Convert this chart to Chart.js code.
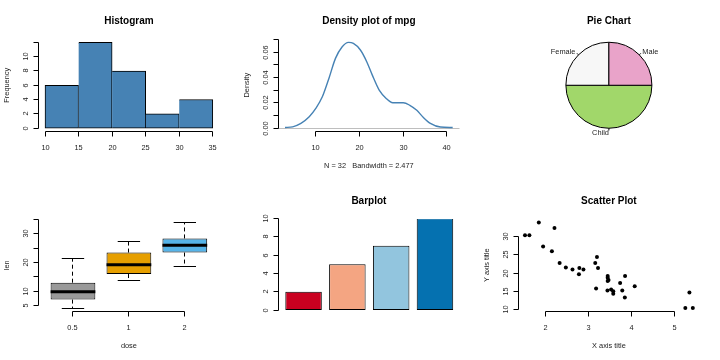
<!DOCTYPE html>
<html>
<head>
<meta charset="utf-8">
<script src="https://cdn.jsdelivr.net/npm/chart.js@4/dist/chart.umd.min.js"></script>
<style>
  body { margin: 0; background: #fff; }
  #wrap { position: relative; width: 720px; height: 360px; }
  .panel { position: absolute; width: 240px; height: 180px; }
  .panel canvas { display: block; }
</style>
</head>
<body>
<div id="wrap">
  <div class="panel" style="left:0;top:0"><canvas id="histChart" width="240" height="180"></canvas></div>
  <div class="panel" style="left:240px;top:0"><canvas id="densChart" width="240" height="180"></canvas></div>
  <div class="panel" style="left:480px;top:0"><canvas id="pieChart" width="240" height="180"></canvas></div>
  <div class="panel" style="left:0;top:180px"><canvas id="boxChart" width="240" height="180"></canvas></div>
  <div class="panel" style="left:240px;top:180px"><canvas id="barChart" width="240" height="180"></canvas></div>
  <div class="panel" style="left:480px;top:180px"><canvas id="scatChart" width="240" height="180"></canvas></div>
</div>
<script>
// ---- data ----
const histBreaks = [10, 15, 20, 25, 30, 35];
const histCounts = [6, 12, 8, 2, 4];
const histXTicks = [10, 15, 20, 25, 30, 35];
const histYTicks = [0, 2, 4, 6, 8, 10, 12];
const histYLabels = ['0', '2', '4', '6', '8', '10', ''];

const densX = [2.96, 4.7, 6.6, 8.5, 10, 11.5, 13, 14.5, 16, 17.5, 18.6, 20.2, 21.7, 22.9, 24.5, 26.1, 27.6, 30, 31.5, 33.1, 34.6, 36.2, 38.5, 41.3];
const densY = [0.0005, 0.001, 0.0037, 0.0089, 0.0155, 0.0247, 0.0392, 0.055, 0.064, 0.0676, 0.0668, 0.0616, 0.052, 0.042, 0.030, 0.0234, 0.020, 0.020, 0.018, 0.014, 0.0084, 0.0037, 0.0008, 0.0004];
const densXTicks = [10, 20, 30, 40];
const densYTicks = [0, 0.01, 0.02, 0.03, 0.04, 0.05, 0.06, 0.07];
const densYLabels = ['0.00', '', '0.02', '', '0.04', '', '0.06', ''];

const pieLabels = ['Male', 'Female', 'Child'];
const pieValues = [25, 25, 50];
const pieColors = ['#E9A3C9', '#F7F7F7', '#A1D76A'];

const doseLabels = ['0.5', '1', '2'];
const lenMin = [4.2, 13.6, 18.5];
const lenQ1 = [7.15, 16.0, 23.45];
const lenMed = [9.85, 19.25, 25.95];
const lenQ3 = [13.0, 23.45, 28.35];
const lenMax = [21.5, 27.3, 33.9];
const boxColors = ['#999999', '#E69F00', '#56B4E9'];
const boxYTicks = [5, 10, 15, 20, 25, 30, 35];
const boxYLabels = ['5', '10', '', '20', '', '30', ''];

const barValues = [2, 5, 7, 10];
const barColors = ['#CA0020', '#F4A582', '#92C5DE', '#0571B0'];
const barYTicks = [0, 2, 4, 6, 8, 10];

const carWt = [2.62, 2.875, 2.32, 3.215, 3.44, 3.46, 3.57, 3.19, 3.15, 3.44, 3.44, 4.07, 3.73, 3.78, 5.25, 5.424,
  5.345, 2.2, 1.615, 1.835, 2.465, 3.52, 3.435, 3.84, 3.845, 1.935, 2.14, 1.513, 3.17, 2.77, 3.57, 2.78];
const carMpg = [21, 21, 22.8, 21.4, 18.7, 18.1, 14.3, 24.4, 22.8, 19.2, 17.8, 16.4, 17.3, 15.2, 10.4, 10.4,
  14.7, 32.4, 30.4, 33.9, 21.5, 15.5, 15.2, 13.3, 19.2, 27.3, 26, 30.4, 15.8, 19.7, 15, 21.4];
const scatXTicks = [2, 3, 4, 5];
const scatYTicks = [10, 15, 20, 25, 30];

// ---- helpers ----
const FONT = '"Liberation Sans", Arial, sans-serif';
const TXT = '#222';
const PAD = { left: 38.3, right: 20.5, top: 39, bottom: 48.5 };

function setTicks(scale, values) {
    scale.ticks = values.map(v => ({ value: v }));
}

function crisp(v) {
    return Math.floor(v) + 0.5;
}

// hidden scale, R-like limits, our own tick list (no auto skipping)
function rScale(min, max, ticks, extra) {
    return Object.assign({
        type: 'linear',
        display: false,
        offset: false,
        min: min,
        max: max,
        ticks: { autoSkip: false },
        afterBuildTicks: s => setTicks(s, ticks)
    }, extra || {});
}

function common(opts) {
    const base = {
        responsive: false,
        animation: false,
        events: [],
        layout: { padding: PAD }
    };
    const out = Object.assign(base, opts);
    out.plugins = Object.assign({ legend: { display: false }, tooltip: { enabled: false } }, opts.plugins || {});
    return out;
}

// R style axes, titles and labels
const rAxes = {
    id: 'rAxes',
    beforeDatasetsDraw(chart, args, o) {
        if (!o.zeroLine) return;
        const ctx = chart.ctx, a = chart.chartArea;
        const y = crisp(chart.scales.y.getPixelForValue(0));
        ctx.save();
        ctx.strokeStyle = '#BEBEBE';
        ctx.lineWidth = 1;
        ctx.beginPath();
        ctx.moveTo(a.left, y);
        ctx.lineTo(a.right, y);
        ctx.stroke();
        ctx.restore();
    },
    afterDraw(chart, args, o) {
        const ctx = chart.ctx, a = chart.chartArea;
        const cx = (a.left + a.right) / 2, cy = (a.top + a.bottom) / 2;
        ctx.save();
        ctx.strokeStyle = '#000';
        ctx.lineWidth = 1;
        ctx.fillStyle = TXT;
        ctx.font = '7.4px ' + FONT;

        if (o.xLabels) {
            const sx = chart.scales.x;
            const px = sx.ticks.map(t => crisp(sx.getPixelForValue(t.value)));
            const y0 = crisp(a.bottom);
            ctx.beginPath();
            ctx.moveTo(px[0], y0);
            ctx.lineTo(px[px.length - 1], y0);
            px.forEach(p => { ctx.moveTo(p, y0); ctx.lineTo(p, y0 + 5); });
            ctx.stroke();
            ctx.textAlign = 'center';
            ctx.textBaseline = 'alphabetic';
            px.forEach((p, i) => ctx.fillText(o.xLabels[i], p, 150));
        }
        if (o.yLabels) {
            const sy = chart.scales.y;
            const py = sy.ticks.map(t => crisp(sy.getPixelForValue(t.value)));
            const x0 = crisp(a.left);
            ctx.beginPath();
            ctx.moveTo(x0, py[0]);
            ctx.lineTo(x0, py[py.length - 1]);
            py.forEach(p => { ctx.moveTo(x0, p); ctx.lineTo(x0 - 5, p); });
            ctx.stroke();
            ctx.textAlign = 'center';
            ctx.textBaseline = 'alphabetic';
            py.forEach((p, i) => {
                ctx.save();
                ctx.translate(27.5, p);
                ctx.rotate(-Math.PI / 2);
                ctx.fillText(o.yLabels[i], 0, 0);
                ctx.restore();
            });
        }
        if (o.xTitle) {
            ctx.textAlign = 'center';
            ctx.fillText(o.xTitle, cx, 167.5);
        }
        if (o.yTitle) {
            ctx.save();
            ctx.translate(8.8, cy);
            ctx.rotate(-Math.PI / 2);
            ctx.textAlign = 'center';
            ctx.fillText(o.yTitle, 0, 0);
            ctx.restore();
        }
        if (o.title) {
            ctx.fillStyle = '#000';
            ctx.font = 'bold 10px ' + FONT;
            ctx.textAlign = 'center';
            ctx.fillText(o.title, cx, 24);
        }
        ctx.restore();
    }
};

// whiskers, staples and medians for the boxplot
const rBox = {
    id: 'rBox',
    afterDatasetsDraw(chart, args, o) {
        const ctx = chart.ctx, sy = chart.scales.y;
        const meta = chart.getDatasetMeta(0);
        ctx.save();
        ctx.strokeStyle = '#000';
        ctx.lineCap = 'butt';
        meta.data.forEach((bar, i) => {
            const x = crisp(bar.x), w = bar.width;
            const yMin = sy.getPixelForValue(o.min[i]);
            const yMax = sy.getPixelForValue(o.max[i]);
            const yQ1 = sy.getPixelForValue(o.q1[i]);
            const yQ3 = sy.getPixelForValue(o.q3[i]);
            const yMed = sy.getPixelForValue(o.med[i]);
            ctx.lineWidth = 1;
            ctx.setLineDash([4, 3]);
            ctx.beginPath();
            ctx.moveTo(x, yQ3); ctx.lineTo(x, yMax);
            ctx.moveTo(x, yQ1); ctx.lineTo(x, yMin);
            ctx.stroke();
            ctx.setLineDash([]);
            ctx.beginPath();
            ctx.moveTo(bar.x - w / 4, crisp(yMax)); ctx.lineTo(bar.x + w / 4, crisp(yMax));
            ctx.moveTo(bar.x - w / 4, crisp(yMin)); ctx.lineTo(bar.x + w / 4, crisp(yMin));
            ctx.stroke();
            ctx.lineWidth = 3;
            ctx.beginPath();
            ctx.moveTo(bar.x - w / 2, yMed); ctx.lineTo(bar.x + w / 2, yMed);
            ctx.stroke();
        });
        ctx.restore();
    }
};

// pie labels with short leader lines, like R's pie()
const rPieLabels = {
    id: 'rPieLabels',
    afterDatasetsDraw(chart) {
        const ctx = chart.ctx;
        const meta = chart.getDatasetMeta(0);
        const labels = chart.data.labels;
        ctx.save();
        ctx.strokeStyle = '#000';
        ctx.lineWidth = 1;
        ctx.fillStyle = TXT;
        ctx.font = '7.4px ' + FONT;
        ctx.textBaseline = 'middle';
        meta.data.forEach((arc, i) => {
            const mid = (arc.startAngle + arc.endAngle) / 2;
            const dx = Math.cos(mid), dy = Math.sin(mid), r = arc.outerRadius;
            ctx.beginPath();
            ctx.moveTo(arc.x + dx * r, arc.y + dy * r);
            ctx.lineTo(arc.x + dx * r * 1.05, arc.y + dy * r * 1.05);
            ctx.stroke();
            ctx.textAlign = dx > 1e-9 ? 'left' : 'right';
            ctx.fillText(labels[i], arc.x + dx * r * 1.1, arc.y + dy * r * 1.1);
        });
        ctx.restore();
    }
};

// ---- charts ----
function createHistogram() {
    new Chart(document.getElementById('histChart'), {
        type: 'bar',
        data: {
            datasets: [{
                data: histCounts.map((c, i) => ({ x: (histBreaks[i] + histBreaks[i + 1]) / 2, y: c })),
                backgroundColor: '#4682B4',
                borderColor: '#000',
                borderWidth: ctx => ({ top: 1, right: 1, bottom: 1, left: ctx.dataIndex === 0 ? 1 : 0 }),
                borderSkipped: false,
                barPercentage: 1,
                categoryPercentage: 1
            }]
        },
        options: common({
            scales: {
                x: rScale(9, 36, histXTicks),
                y: rScale(-0.48, 12.48, histYTicks)
            },
            plugins: {
                rAxes: { title: 'Histogram', xLabels: histXTicks.map(String), yLabels: histYLabels, yTitle: 'Frequency' }
            }
        }),
        plugins: [rAxes]
    });
}

function createDensity() {
    new Chart(document.getElementById('densChart'), {
        type: 'line',
        data: {
            datasets: [{
                data: densX.map((x, i) => ({ x: x, y: densY[i] })),
                borderColor: '#4682B4',
                borderWidth: 1.4,
                pointRadius: 0,
                fill: false,
                cubicInterpolationMode: 'monotone'
            }]
        },
        options: common({
            scales: {
                x: rScale(1.43, 42.86, densXTicks),
                y: rScale(-0.0027, 0.0703, densYTicks)
            },
            plugins: {
                rAxes: {
                    title: 'Density plot of mpg', xLabels: densXTicks.map(String), yLabels: densYLabels,
                    yTitle: 'Density', xTitle: 'N = 32   Bandwidth = 2.477', zeroLine: true
                }
            }
        }),
        plugins: [rAxes]
    });
}

function createPie() {
    // R draws counter-clockwise from 3 o'clock; Chart.js goes clockwise, so reverse
    new Chart(document.getElementById('pieChart'), {
        type: 'pie',
        data: {
            labels: pieLabels.slice().reverse(),
            datasets: [{
                data: pieValues.slice().reverse(),
                backgroundColor: pieColors.slice().reverse(),
                borderColor: '#000',
                borderWidth: 1
            }]
        },
        options: common({
            radius: 43,
            rotation: 90,
            plugins: { rAxes: { title: 'Pie Chart' } }
        }),
        plugins: [rAxes, rPieLabels]
    });
}

function createBoxplot() {
    new Chart(document.getElementById('boxChart'), {
        type: 'bar',
        data: {
            datasets: [{
                data: doseLabels.map((d, i) => ({ x: i + 1, y: [lenQ1[i], lenQ3[i]] })),
                backgroundColor: boxColors,
                borderColor: '#000',
                borderWidth: 1,
                borderSkipped: false,
                barPercentage: 0.8,
                categoryPercentage: 1
            }]
        },
        options: common({
            scales: {
                x: rScale(0.38, 3.62, [1, 2, 3]),
                y: rScale(3.012, 35.088, boxYTicks)
            },
            plugins: {
                rAxes: { xLabels: doseLabels, yLabels: boxYLabels, xTitle: 'dose', yTitle: 'len' },
                rBox: { min: lenMin, q1: lenQ1, med: lenMed, q3: lenQ3, max: lenMax }
            }
        }),
        plugins: [rBox, rAxes]
    });
}

function createBarplot() {
    new Chart(document.getElementById('barChart'), {
        type: 'bar',
        data: {
            datasets: [{
                data: barValues.map((v, i) => ({ x: i + 1, y: v })),
                backgroundColor: barColors,
                borderColor: '#000',
                borderWidth: 1,
                borderSkipped: false,
                barPercentage: 1 / 1.2,
                categoryPercentage: 1
            }]
        },
        options: common({
            scales: {
                x: rScale(0.4235, 4.56, [1, 2, 3, 4]),
                y: rScale(-0.16, 9.93, barYTicks)
            },
            plugins: {
                rAxes: { title: 'Barplot', yLabels: barYTicks.map(String) }
            }
        }),
        plugins: [rAxes]
    });
}

function createScatter() {
    new Chart(document.getElementById('scatChart'), {
        type: 'scatter',
        data: {
            datasets: [{
                data: carWt.map((w, i) => ({ x: w, y: carMpg[i] })),
                backgroundColor: '#000',
                borderWidth: 0,
                pointRadius: 2
            }]
        },
        options: common({
            scales: {
                x: rScale(1.357, 5.58, scatXTicks),
                y: rScale(9.46, 34.84, scatYTicks)
            },
            plugins: {
                rAxes: {
                    title: 'Scatter Plot', xLabels: scatXTicks.map(String), yLabels: scatYTicks.map(String),
                    xTitle: 'X axis title', yTitle: 'Y axis title'
                }
            }
        }),
        plugins: [rAxes]
    });
}

createHistogram();
createDensity();
createPie();
createBoxplot();
createBarplot();
createScatter();
</script>
</body>
</html>
